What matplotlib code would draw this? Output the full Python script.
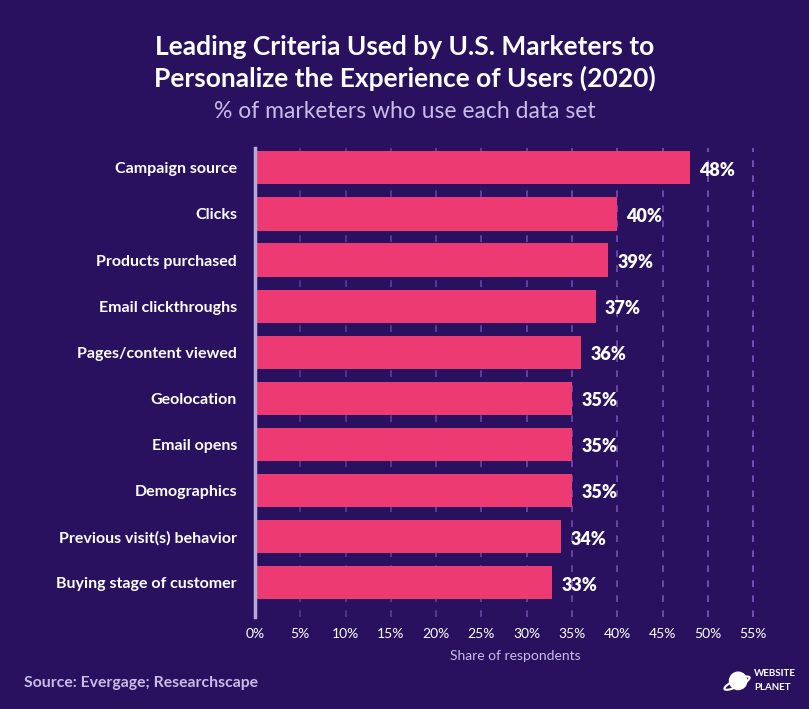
import matplotlib
matplotlib.use("Agg")
import matplotlib.pyplot as plt
from matplotlib.patches import Circle, Ellipse

BG = "#2a1160"
BAR = "#ee3a73"
LAV = "#c9bce6"

criteria = [
    "Campaign source",
    "Clicks",
    "Products purchased",
    "Email clickthroughs",
    "Pages/content viewed",
    "Geolocation",
    "Email opens",
    "Demographics",
    "Previous visit(s) behavior",
    "Buying stage of customer",
]
# bar lengths as drawn in the picture, and the printed labels
shares = [48, 40, 39, 37.6, 36, 35, 35, 35, 33.8, 32.8]
share_labels = ["48%", "40%", "39%", "37%", "36%", "35%", "35%", "35%", "34%", "33%"]
ticks = list(range(0, 60, 5))
tick_labels = [f"{t}%" for t in ticks]

plt.rcParams["font.family"] = ["Lato", "DejaVu Sans"]

fig = plt.figure(figsize=(8.09, 7.09), dpi=100, facecolor=BG)
ax = fig.add_axes([255 / 809, 1 - 617 / 709, 520 / 809, 469 / 709])
ax.set_facecolor(BG)

# dashed grid, a little brighter towards the right
for t in ticks[1:]:
    alpha = 0.45 + 0.5 * t / 55
    ax.axvline(t, color="#8a5cc8", lw=1.2, ls=(0, (4, 5)), alpha=alpha, zorder=0)

ypos = range(len(criteria))
ax.barh(ypos, shares, height=0.72, color=BAR, zorder=2)
for y, v, lab in zip(ypos, shares, share_labels):
    ax.text(v + 1.0, y + 0.05, lab, color="white", fontsize=13,
            fontweight="heavy", va="center", ha="left")

ax.set_xlim(0, 57.4)
ax.set_ylim(9.74, -0.43)
ax.set_yticks(list(ypos))
ax.set_yticklabels(criteria, color="white", fontsize=11.5, fontweight="bold")
ax.set_xticks(ticks)
ax.set_xticklabels(tick_labels, color="white", fontsize=10)
ax.tick_params(axis="both", length=0)
ax.tick_params(axis="y", pad=13)
ax.tick_params(axis="x", pad=8)
ax.set_xlabel("Share of respondents", color=LAV, fontsize=10, labelpad=7)

for side in ["top", "right", "bottom"]:
    ax.spines[side].set_visible(False)
ax.spines["left"].set_color("#b7a9d9")
ax.spines["left"].set_linewidth(2.5)

fig.text(0.5, 1 - 47 / 709, "Leading Criteria Used by U.S. Marketers to",
         ha="center", va="center", color="white", fontsize=19, fontweight="bold")
fig.text(0.5, 1 - 78 / 709, "Personalize the Experience of Users (2020)",
         ha="center", va="center", color="white", fontsize=19, fontweight="bold")
fig.text(0.5, 1 - 112 / 709, "% of marketers who use each data set",
         ha="center", va="center", color=LAV, fontsize=16.5)

fig.text(24 / 809, 1 - 683 / 709, "Source: Evergage; Researchscape",
         ha="left", va="center", color=LAV, fontsize=11.3, fontweight="bold")

# small logo
lax = fig.add_axes([722 / 809, 1 - 695 / 709, 30 / 809, 26 / 709])
lax.set_xlim(-1.3, 1.3)
lax.set_ylim(-1.1, 1.1)
lax.set_aspect("equal")
lax.axis("off")
lax.add_patch(Circle((0.1, 0.1), 0.75, color="white"))
lax.add_patch(Ellipse((0, -0.1), 2.4, 0.6, angle=25, fill=False, ec="white", lw=1.5))
fig.text(754 / 809, 1 - 674 / 709, "WEBSITE", ha="left", va="center",
         color="white", fontsize=7, fontweight="bold")
fig.text(754 / 809, 1 - 687 / 709, "PLANET", ha="left", va="center",
         color="white", fontsize=7, fontweight="bold")

fig.savefig("out.png", dpi=100, facecolor=BG)
